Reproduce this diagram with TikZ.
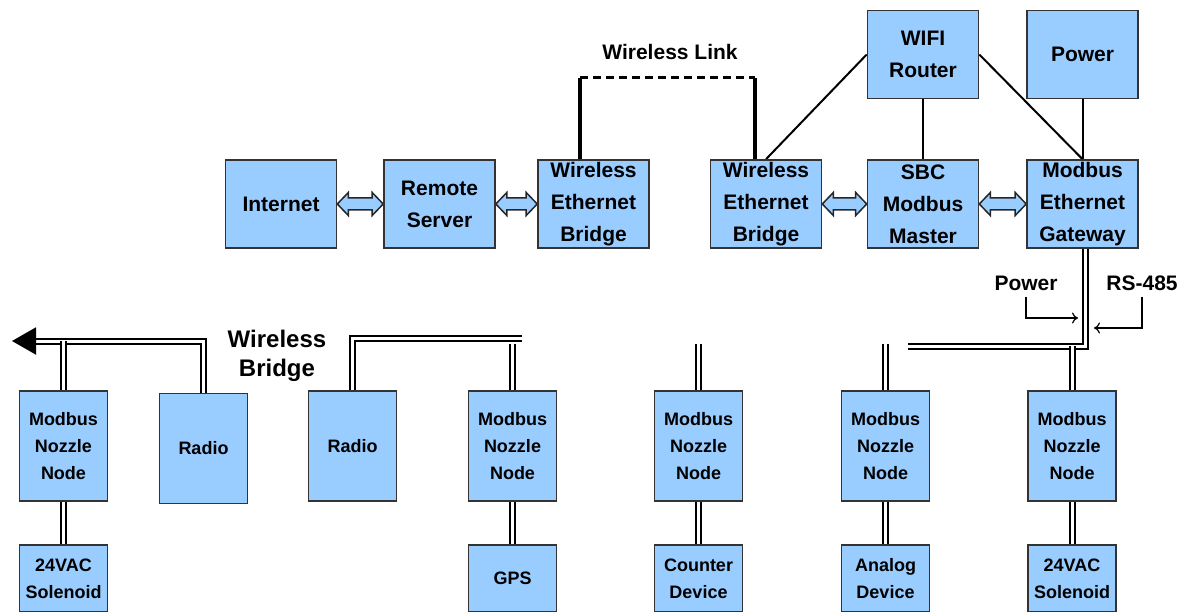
\documentclass[tikz,border=0pt]{standalone}
\usepackage{fontspec}
\setmainfont{Liberation Sans}
\usetikzlibrary{arrows.meta,calc}
\pgfdeclarelayer{edgelayer}
\pgfdeclarelayer{nodelayer}
\pgfsetlayers{edgelayer,nodelayer,main}
\definecolor{boxblue}{HTML}{99CCFF}
\tikzstyle{block}=[draw=black!80, line width=1.6pt, fill=boxblue, align=center, inner sep=0pt, font=\bfseries\fontsize{21}{32}\selectfont]
\tikzstyle{topbox}=[block, minimum width=111pt, minimum height=88pt]
\tikzstyle{nozzle}=[block, minimum width=88pt, minimum height=110pt, font=\bfseries\fontsize{18}{27}\selectfont]
\tikzstyle{device}=[nozzle, minimum height=67pt]
\tikzstyle{txt}=[align=center, inner sep=0pt, font=\bfseries\fontsize{21}{29}\selectfont]
\tikzstyle{eth}=[draw=black!85, fill=boxblue, line width=1.5pt, line join=miter]
\tikzstyle{bus}=[draw=black, double=white, double distance=3pt, line width=2pt]
\tikzstyle{link}=[draw=black, line width=3.5pt]
\tikzstyle{wire}=[draw=black, line width=2pt]
\tikzstyle{feed}=[draw=black, line width=1.2pt, -{To[length=6pt,width=11pt]}]
% hollow two-way arrow from the east side of #1 to the west side of #2
\newcommand{\ethlink}[2]{%
	\draw [style=eth] let \p1=(#1.east), \p2=(#2.west) in
		(\x1,\y1) -- (\x1+11pt,\y1+11.5pt) -- (\x1+11pt,\y1+6pt) -- (\x2-11pt,\y1+6pt)
		-- (\x2-11pt,\y1+11.5pt) -- (\x2,\y1) -- (\x2-11pt,\y1-11.5pt) -- (\x2-11pt,\y1-6pt)
		-- (\x1+11pt,\y1-6pt) -- (\x1+11pt,\y1-11.5pt) -- cycle;}

\begin{document}
\begin{tikzpicture}[x=1pt, y=-1pt]
				\useasboundingbox (0,0) rectangle (1188,612);
				\begin{pgfonlayer}{nodelayer}
					\node [style=topbox] (0) at (281, 204) {Internet};
					\node [style=topbox] (1) at (439.5, 204) {Remote\\Server};
					\node [style=topbox] (2) at (593.5, 204) {Wireless\\Ethernet\\Bridge};
					\node [style=topbox] (3) at (766, 204) {Wireless\\Ethernet\\Bridge};
					\node [style=topbox] (4) at (923, 204) {SBC\\Modbus\\Master};
					\node [style=topbox] (5) at (1082.5, 204) {Modbus\\Ethernet\\Gateway};
					\node [style=topbox] (6) at (923, 54.5) {WIFI\\Router};
					\node [style=topbox] (7) at (1082.5, 54.5) {Power};
					\node [style=nozzle] (8) at (63.5, 446) {Modbus\\Nozzle\\Node};
					\node [style=nozzle] (9) at (203.5, 448.5) {Radio};
					\node [style=nozzle] (10) at (352.5, 446) {Radio};
					\node [style=nozzle] (11) at (512.5, 446) {Modbus\\Nozzle\\Node};
					\node [style=nozzle] (12) at (698.5, 446) {Modbus\\Nozzle\\Node};
					\node [style=nozzle] (13) at (885.5, 446) {Modbus\\Nozzle\\Node};
					\node [style=nozzle] (14) at (1072, 446) {Modbus\\Nozzle\\Node};
					\node [style=device] (15) at (63.5, 578.5) {24VAC\\Solenoid};
					\node [style=device] (16) at (512.5, 578.5) {GPS};
					\node [style=device] (17) at (698.5, 578.5) {Counter\\Device};
					\node [style=device] (18) at (885.5, 578.5) {Analog\\Device};
					\node [style=device] (19) at (1072, 578.5) {24VAC\\Solenoid};
					\node [style=txt] (26) at (670, 52) {Wireless Link};
					\node [style=txt] (27) at (1026, 283) {Power};
					\node [style=txt] (28) at (1142, 283) {RS-485};
					\node [style=txt, font=\bfseries\fontsize{24}{29}\selectfont] (29) at (277, 356) {Wireless\\Bridge};
				\end{pgfonlayer}
				\begin{pgfonlayer}{edgelayer}
					\coordinate (20) at (580, 78);
					\coordinate (21) at (755, 78);
					\coordinate (22) at (1085, 346);
					\coordinate (23) at (908, 346);
					\coordinate (24) at (522, 338);
					\coordinate (25) at (12, 341);
					\coordinate (30) at (1078, 318);
					\coordinate (31) at (1094, 328);
					\ethlink{0}{1}
					\ethlink{1}{2}
					\ethlink{3}{4}
					\ethlink{4}{5}
					\draw [style=link] (2.north -| 20) to (20);
					\draw [style=link, line width=3pt, dash pattern=on 8pt off 5pt] (20) to (21);
					\draw [style=link] (21) to (3.north -| 21);
					\draw [style=wire] (6.west) to (3.north);
					\draw [style=wire] (6.east) to (5.north);
					\draw [style=wire] (6) to (4);
					\draw [style=wire] (7) to (5);
					\draw [style=bus] (5.south -| 22) |- (23);
					\draw [style=bus] (14.north) to (14.north |- 22);
					\draw [style=bus] (13.north) to ([yshift=2pt]13.north |- 22);
					\draw [style=bus] (12.north) to ([yshift=2pt]12.north |- 22);
					\draw [style=bus] (11.north) to ([yshift=2pt]11.north |- 22);
					\draw [style=bus] (10.north) |- (24);
					\draw [style=bus, -{Triangle[length=24pt, width=27pt]}] (9.north) |- (25);
					\draw [style=bus] (8.north) to (8.north |- 25);
					\draw [style=bus] (8) to (15);
					\draw [style=bus] (11) to (16);
					\draw [style=bus] (12) to (17);
					\draw [style=bus] (13) to (18);
					\draw [style=bus] (14) to (19);
					\draw [style=feed, shorten <=6pt] (27.south) |- (30);
					\draw [style=feed, shorten <=6pt] (28.south) |- (31);
				\end{pgfonlayer}
			\end{tikzpicture}
\end{document}
